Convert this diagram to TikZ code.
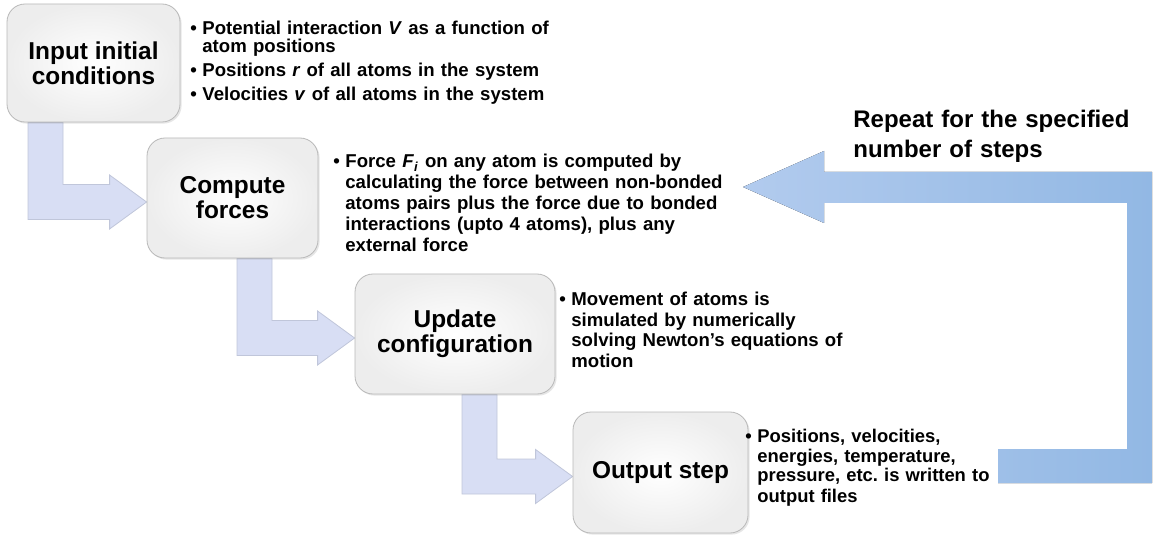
\documentclass[tikz,border=0pt]{standalone}
\usepackage{fontspec}
\setmainfont{Liberation Sans}
\usetikzlibrary{calc,backgrounds,shadows}
\frenchspacing

\definecolor{stepblue}{RGB}{216,222,244}
\definecolor{stepedge}{RGB}{192,198,218}
\definecolor{loopdark}{RGB}{146,184,228}
\definecolor{looplight}{RGB}{178,203,238}

% bullet with hanging indent
\newcommand{\bul}{\hangindent=6pt\hangafter=1\makebox[6pt][l]{\textbullet}}

\begin{document}
\begin{tikzpicture}[x=0.5pt, y=-0.5pt,
	stepbox/.style={draw=gray!55, rounded corners=9pt, inner color=white, outer color=gray!14,
		drop shadow={opacity=0.2, shadow xshift=0.8pt, shadow yshift=-0.8pt},
		align=center, inner sep=0pt, font=\fontsize{12.2}{12.6}\selectfont\bfseries},
	notes/.style={anchor=base west, inner sep=0pt, text width=230pt, align=left,
		font=\fontsize{9.3}{10.4}\selectfont\bfseries},
	bent/.style={fill=stepblue, draw=stepedge, line width=0.4pt}]
	\useasboundingbox (0,0) rectangle (1153,535);
	
	% the four steps
	\node[stepbox, minimum width=86.5pt, minimum height=59pt] (init) at (93.5,63) {Input initial\\conditions};
	\node[stepbox, minimum width=85.5pt, minimum height=60pt] (forces) at (232.5,198) {Compute\\forces};
	\node[stepbox, minimum width=100pt, minimum height=60pt] (update) at (455,334) {Update\\configuration};
	\node[stepbox, minimum width=87.5pt, minimum height=60.5pt] (output) at (660.5,472.5) {Output step};
	
	% notes beside the steps
	\node[notes, font=\fontsize{9.3}{9}\selectfont\bfseries] (initnote) at (190,35)
	{\bul Potential interaction \textit{V} as a function of\newline atom positions\par\vspace{3pt}
		\bul Positions \textit{r} of all atoms in the system\par\vspace{3pt}
		\bul Velocities \textit{v} of all atoms in the system\par};
	\node[notes] (forcenote) at (333,168)
	{\bul Force \textit{F}\textsubscript{\textit{i}} on any atom is computed by\newline
		calculating the force between non-bonded\newline
		atoms pairs plus the force due to bonded\newline
		interactions (upto 4 atoms), plus any\newline
		external force\par};
	\node[notes, font=\fontsize{9.3}{10.2}\selectfont\bfseries] (updatenote) at (559,306)
	{\bul Movement of atoms is\newline
		simulated by numerically\newline
		solving Newton’s equations of\newline
		motion\par};
	\node[notes, font=\fontsize{9.2}{10}\selectfont\bfseries] (outputnote) at (745,442)
	{\bul Positions, velocities,\newline
		energies, temperature,\newline
		pressure, etc. is written to\newline
		output files\par};
	
	% bent arrows between the steps
	\begin{pgfonlayer}{background}
		\foreach \src/\dst/\xl in {init/forces/28, forces/update/237, update/output/462}
		\draw[bent] (\xl,0 |- \src.south) -- ++(35,0) |- ($(\dst.west)+(-37,-13.5)$)
		-- ($(\dst.west)+(-37,-23)$) -- ($(\dst.west)+(0,4)$) -- ($(\dst.west)+(-37,31)$)
		-- ($(\dst.west)+(-37,21.5)$) -| (\xl,0 |- \src.south) -- cycle;
	\end{pgfonlayer}
	
	% loop back
	\fill[left color=looplight, right color=loopdark]
	(743,187) -- (824,151) -- (824,172) -- (1152,172) -- (1152,483) -- (998,483)
	-- (998,449) -- (1127,449) -- (1127,203) -- (824,203) -- (824,223) -- cycle;
	\node[anchor=base west, inner sep=0pt, text width=160pt, align=left,
	font=\fontsize{12}{15}\selectfont\bfseries] (repeat) at (853,128)
	{Repeat for the specified\\number of steps};
\end{tikzpicture}
\end{document}
